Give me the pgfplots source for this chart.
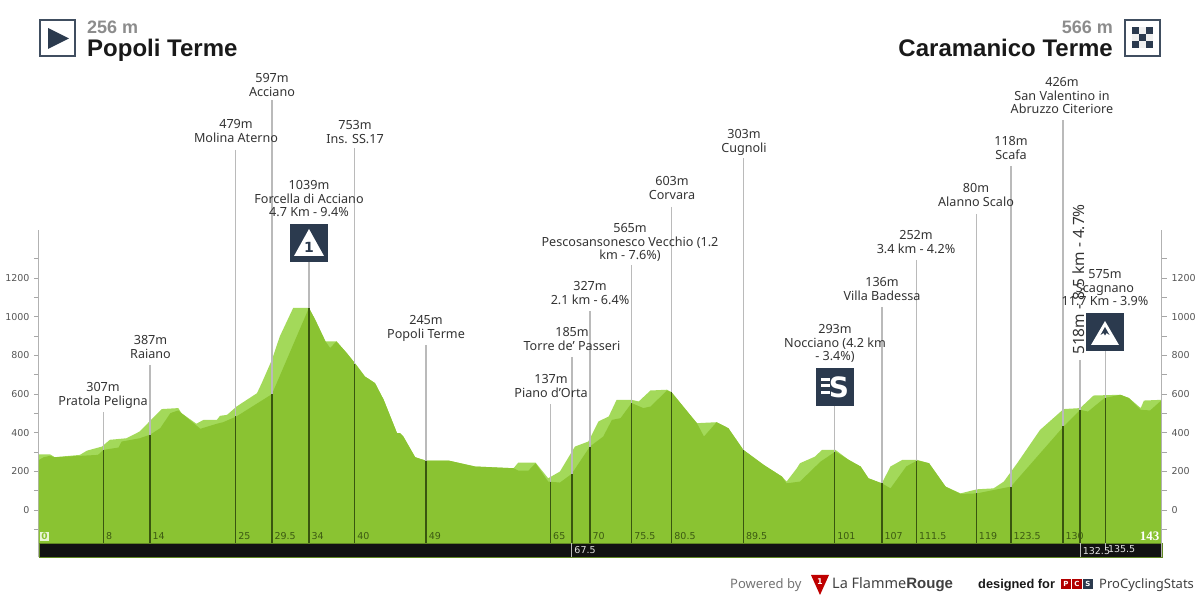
\documentclass[border=0pt]{standalone}
\usepackage{pgfplots}
\pgfplotsset{compat=1.18}
\usepackage{fontspec}
\setmainfont{Noto Sans}
\newfontfamily\tickf{DejaVu Sans}
\newfontfamily\serf{Liberation Serif}
\newfontfamily\headf{Liberation Sans}
\definecolor{lightg}{HTML}{A3D95A}
\definecolor{darkg}{HTML}{8AC332}
\definecolor{stem}{HTML}{39560F}
\definecolor{navy}{HTML}{2B3A4E}
\definecolor{ltxt}{HTML}{333333}
\definecolor{tickc}{HTML}{555555}
\definecolor{kmc}{HTML}{3C5A12}

\pgfplotstableread{
km m
0 288
1.4 288
2.0 273
5.2 285
6.1 307
8.0 328
9.0 363
11.1 371
12.8 406
13.9 452
15.6 522
17.7 527
18.1 501
20.0 446
20.9 466
22.6 466
23.0 487
23.9 492
25.1 535
27.7 604
28.3 656
29.6 777
30.6 898
32.3 1045
34.3 1045
35.1 984
36.4 872
37.8 872
39.1 812
40.2 756
41.4 691
42.7 656
43.8 570
45.5 397
45.9 397
46.3 380
47.8 273
49.1 256
52.0 256
55.4 225
60.3 216
60.9 245
63.1 245
64.7 164
66.2 199
68.1 328
69.8 354
71.1 458
72.4 484
73.4 570
75.3 570
76.2 561
77.7 618
79.8 622
80.4 608
83.6 449
86.1 454
87.6 423
89.5 311
92.1 233
94.4 173
95.0 147
96.3 216
96.7 242
98.6 276
99.5 311
101.2 311
102.9 259
104.4 225
105.4 164
107.1 138
108.2 225
109.7 259
111.6 259
113.1 242
115.2 121
117.1 86
119.2 107
121.3 112
122.6 147
124.3 242
127.2 414
130.2 522
132.3 527
134.0 592
137.4 596
138.5 579
140.0 527
140.4 566
142.7 570
}\lightprofile

\pgfplotstableread{
km m
0 259
0.6 273
1.4 280
2.0 273
5.2 280
7.5 285
8.2 311
10.1 323
10.5 354
12.8 371
14.1 389
15.4 423
16.7 501
17.7 515
18.1 501
20.5 420
22.6 446
23.4 454
25.1 484
29.6 599
34.3 1045
35.1 984
36.4 872
37.0 838
37.8 872
39.1 812
40.2 756
41.4 691
42.7 656
43.8 570
45.5 397
45.9 397
46.3 380
47.8 273
49.1 256
52.0 256
55.4 225
60.3 216
60.9 204
62.2 204
63.1 242
64.7 147
66.2 142
67.7 187
70.0 328
71.7 380
72.8 466
73.9 475
75.3 553
76.8 527
77.7 535
79.8 618
80.4 608
83.6 449
84.5 380
86.1 454
87.6 423
89.5 311
92.1 233
94.4 173
95.0 138
96.7 147
99.3 250
101.2 302
102.9 259
104.4 225
105.4 164
107.1 138
108.2 112
110.2 225
111.6 256
113.1 242
115.2 121
117.1 83
119.2 86
123.5 121
130.2 432
132.3 518
133.3 509
135.4 579
137.4 596
138.5 579
140.0 518
141.2 515
142.7 570
}\darkprofile

% km, top of the grey stem, height of the profile at the stem
\newcommand\stem[3]{%
  \addplot[draw=black!27,line width=1.5pt,forget plot] coordinates {(#1,#2) (#1,#3)};
  \addplot[draw=stem,line width=1.5pt,forget plot] coordinates {(#1,#3) (#1,-171)};
}
\newcommand\kmlab[2]{\node[anchor=west,inner sep=0pt,text=kmc,font=\tickf\fontsize{9.5}{10}\selectfont] at (axis cs:#1,-136) {\hspace{2.5pt}#2};}
\newcommand\lab[3]{\node[anchor=north,align=center,inner sep=0pt,text=ltxt,font=\fontsize{12.6}{13.5}\selectfont] at (#1,{600-#2+4.6}) {#3};}

\begin{document}
\begin{tikzpicture}[x=1pt,y=1pt]
\useasboundingbox (0,0) rectangle (1200,600);
\begin{axis}[
  at={(39pt,43pt)},anchor=south west,scale only axis,
  width=1123pt,height=327pt,
  xmin=0,xmax=142.7,ymin=-243,ymax=1448,
  clip=false,
  axis x line=none,
  axis y line=left,
  axis line style={draw=black!30,line width=1pt,-},
  ytick={0,200,...,1200},
  minor ytick={-100,100,...,1300},
  tick style={draw=black!35,line width=0.6pt},
  major tick length=5pt,minor tick length=5pt,
  tick align=outside,
  /pgf/number format/assume math mode=true,
  /pgf/number format/1000 sep={},
  yticklabel style={font=\tickf\fontsize{9.5}{10}\selectfont,text=tickc,xshift=-1pt},
]
\addplot[fill=lightg,draw=none] table[x=km,y=m] {\lightprofile} |- (axis cs:0,-171) -- cycle;
\addplot[fill=darkg,draw=none] table[x=km,y=m] {\darkprofile} |- (axis cs:0,-171) -- cycle;
% black band
\addplot[fill=black!93,draw=darkg!70!black,line width=0.8pt] coordinates {(0,-171) (142.7,-171) (142.7,-243) (0,-243)} -- cycle;
% stems
\stem{8.2}{507}{311}
\stem{14.1}{750}{389}
\stem{25.0}{1862}{484}
\stem{29.6}{2121}{599}
\stem{34.3}{1283}{1045}
\stem{40.1}{1873}{756}
\stem{49.2}{854}{256}
\stem{65.0}{548}{147}
\stem{67.7}{792}{187}
\stem{70.0}{1030}{328}
\stem{75.3}{1267}{553}
\stem{80.4}{1567}{608}
\stem{89.5}{1821}{311}
\stem{101.1}{538}{302}
\stem{107.1}{1050}{138}
\stem{111.5}{1293}{256}
\stem{119.1}{1531}{86}
\stem{123.5}{1780}{121}
\stem{130.1}{2018}{432}
\stem{132.3}{776}{518}
\stem{135.5}{822}{579}
% stems that run on through the band
\addplot[draw=black!27,line width=1pt,forget plot] coordinates {(67.7,-171) (67.7,-243)};
\addplot[draw=black!27,line width=1pt,forget plot] coordinates {(132.3,-171) (132.3,-243)};
\addplot[draw=black!27,line width=1pt,forget plot] coordinates {(135.5,-171) (135.5,-205)};
% km labels
\kmlab{8.2}{8}\kmlab{14.1}{14}\kmlab{25.0}{25}\kmlab{29.6}{29.5}\kmlab{34.3}{34}
\kmlab{40.1}{40}\kmlab{49.2}{49}\kmlab{65.0}{65}\kmlab{70.0}{70}\kmlab{75.3}{75.5}
\kmlab{80.4}{80.5}\kmlab{89.5}{89.5}\kmlab{101.1}{101}\kmlab{107.1}{107}\kmlab{111.5}{111.5}
\kmlab{119.1}{119}\kmlab{123.5}{123.5}\kmlab{130.1}{130}
\node[anchor=west,inner sep=0pt,text=black!12,font=\tickf\fontsize{9.5}{10}\selectfont] at (axis cs:67.7,-207) {\hspace{2.5pt}67.5};
\node[anchor=west,inner sep=0pt,text=black!12,font=\tickf\fontsize{9.5}{10}\selectfont] at (axis cs:132.3,-212) {\hspace{2.5pt}132.5};
\node[anchor=west,inner sep=0pt,text=black!12,font=\tickf\fontsize{9.5}{10}\selectfont] at (axis cs:135.5,-204) {\hspace{2.5pt}135.5};
\node[anchor=center,inner sep=1pt,fill=white!75!lightg,text=darkg,font=\tickf\bfseries\fontsize{9}{10}\selectfont] at (axis cs:0.7,-135) {0};
\node[anchor=east,inner sep=0pt,text=white,font=\serf\bfseries\fontsize{13}{13}\selectfont] at (axis cs:142.4,-135) {143};
\end{axis}
% right-hand vertical scale
\begin{axis}[
  at={(39pt,43pt)},anchor=south west,scale only axis,
  width=1123pt,height=327pt,
  xmin=0,xmax=142.7,ymin=-243,ymax=1448,
  axis x line=none,
  axis y line=right,
  axis line style={draw=black!30,line width=1pt,-},
  ytick={0,200,...,1200},
  minor ytick={-100,100,...,1300},
  tick style={draw=black!35,line width=0.6pt},
  major tick length=5pt,minor tick length=5pt,
  tick align=outside,
  /pgf/number format/assume math mode=true,
  /pgf/number format/1000 sep={},
  yticklabel style={font=\tickf\fontsize{9.5}{10}\selectfont,text=tickc,xshift=1pt},
]
\addplot[draw=none,forget plot] coordinates {(0,0) (142.7,0)};
\end{axis}

% header
\draw[draw=navy!90!white,line width=2pt] (40,544) rectangle (75,580);
\fill[navy] (48,572) -- (69,561.5) -- (48,551) -- cycle;
\node[anchor=base west,inner sep=0pt,text=black!45,font=\headf\bfseries\fontsize{18}{18}\selectfont] at (87,566) {256 m};
\node[anchor=base west,inner sep=0pt,text=black!90,font=\headf\bfseries\fontsize{24}{24}\selectfont] at (87,543) {Popoli Terme};
\draw[draw=navy!90!white,line width=2pt] (1125,544) rectangle (1160,580);
\foreach \i/\j in {0/0,2/0,1/1,0/2,2/2}{\fill[navy] ({1132+7*\i},{572.5-7*\j}) rectangle ++(7,-7);}
\foreach \i/\j in {1/0,0/1,2/1,1/2}{\fill[black!6] ({1132+7*\i},{572.5-7*\j}) rectangle ++(7,-7);}
\node[anchor=base east,inner sep=0pt,text=black!45,font=\headf\bfseries\fontsize{18}{18}\selectfont] at (1113,566) {566 m};
\node[anchor=base east,inner sep=0pt,text=black!90,font=\headf\bfseries\fontsize{24}{24}\selectfont] at (1113,543) {Caramanico Terme};

% labels
\lab{103}{387}{307m\\Pratola Peligna}
\lab{150.5}{340}{387m\\Raiano}
\lab{236}{124}{479m\\Molina Aterno}
\lab{272}{78}{597m\\Acciano}
\lab{309}{185}{1039m\\Forcella di Acciano\\4.7 Km - 9.4\%}
\lab{355}{125}{753m\\Ins. SS.17}
\lab{426}{320}{245m\\Popoli Terme}
\lab{551}{379}{137m\\Piano d'Orta}
\lab{572}{332}{185m\\Torre de' Passeri}
\lab{590}{286}{327m\\2.1 km - 6.4\%}
\lab{630}{228}{565m\\Pescosansonesco Vecchio (1.2\\km - 7.6\%)}
\lab{672}{181}{603m\\Corvara}
\lab{744}{134}{303m\\Cugnoli}
\lab{835}{329}{293m\\Nocciano (4.2 km\\- 3.4\%)}
\lab{882}{282}{136m\\Villa Badessa}
\lab{916}{235}{252m\\3.4 km - 4.2\%}
\lab{976}{188}{80m\\Alanno Scalo}
\lab{1011}{141}{118m\\Scafa}
\lab{1062}{82}{426m\\San Valentino in\\Abruzzo Citeriore}
\lab{1105}{274}{575m\\Scagnano\\11.7 Km - 3.9\%}
\node[rotate=90,anchor=base west,inner sep=0pt,text=ltxt,font=\fontsize{15.5}{16}\selectfont] at (1084,245) {518m - 8.5 km - 4.7\%};

% climb icons
\fill[navy] (290,338) rectangle (328,376);
\fill[white] (309,371) -- (324,344) -- (294,344) -- cycle;
\node[text=navy,inner sep=0pt,font=\tickf\bfseries\fontsize{14}{14}\selectfont] at (309,353) {1};
\fill[navy] (816,194) rectangle (854,232);
\node[text=white,inner sep=0pt,font=\tickf\bfseries\fontsize{28}{28}\selectfont] at (839,213) {S};
\foreach \yy in {206,212.5,219}{\fill[white] (821,\yy) rectangle ++(9,3);}
\fill[navy] (1086,249) rectangle (1124,287);
\fill[white] (1105,279) -- (1119,255) -- (1091,255) -- cycle;
\fill[navy] (1105,273) -- (1109.5,265) -- (1106.5,267) -- (1105,264.5) -- (1103.5,267) -- (1100.5,265) -- cycle;

% footer
\node[anchor=base west,inner sep=0pt,text=black!55,font=\fontsize{13}{13}\selectfont] at (730,12) {Powered by};
\fill[red!75!black] (811,25) -- (829,25) -- (820,5) -- cycle;
\node[text=white,inner sep=0pt,font=\tickf\bfseries\fontsize{8}{8}\selectfont] at (820,18) {1};
\node[anchor=base west,inner sep=0pt,text=black!75,font=\fontsize{14.5}{14.5}\selectfont] at (832,11) {La Flamme{\headf\bfseries\fontsize{15}{15}\selectfont Rouge}};
\node[anchor=base west,inner sep=0pt,text=black!90,font=\headf\bfseries\fontsize{12.8}{13}\selectfont] at (978,12) {designed for};
\fill[red!70!black] (1061,11) rectangle ++(10,10);
\fill[red!70!black] (1072,11) rectangle ++(10,10);
\fill[navy] (1083,11) rectangle ++(10,10);
\node[text=white,inner sep=0pt,font=\tickf\bfseries\fontsize{7}{7}\selectfont] at (1066,16) {P};
\node[text=white,inner sep=0pt,font=\tickf\bfseries\fontsize{7}{7}\selectfont] at (1077,16) {C};
\node[text=white,inner sep=0pt,font=\tickf\bfseries\fontsize{7}{7}\selectfont] at (1088,16) {S};
\node[anchor=base west,inner sep=0pt,text=black!75,font=\fontsize{13}{13}\selectfont] at (1099,12) {ProCyclingStats};
\end{tikzpicture}
\end{document}
